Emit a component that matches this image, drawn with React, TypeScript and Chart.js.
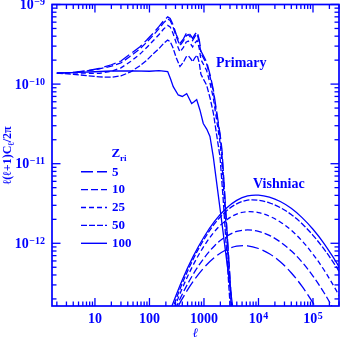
import React, { useEffect, useRef } from "react";
import { Chart, registerables } from "chart.js";

Chart.register(...registerables);

const BLUE = "#0000ff";

const xMin = 1.63;
const xMax = 3.0e5;
const yMin = 1.63e-13;
const yMax = 1e-9;

const zLabels = ["5", "10", "25", "50", "100"];
const dashPatterns: number[][] = [[12, 4], [7, 3], [5, 3], [6, 2], []];

const primaryZ5: [number, number][] = [
  [2, 1.37e-10], [4, 1.4e-10], [7, 1.47e-10], [12, 1.57e-10], [20, 1.75e-10], [30, 1.95e-10],
  [45, 2.4e-10], [67, 2.95e-10], [90, 3.6e-10], [117, 4.35e-10], [150, 5.3e-10], [180, 6.2e-10],
  [216, 7.0e-10], [240, 6.7e-10], [270, 5.6e-10], [310, 4.2e-10], [363, 3.25e-10], [420, 3.7e-10],
  [470, 4.3e-10], [516, 4.46e-10], [570, 4.1e-10], [619, 3.75e-10], [680, 4.2e-10], [750, 4.53e-10],
  [820, 3.6e-10], [880, 2.6e-10], [1000, 2.2e-10], [1120, 1.9e-10], [1300, 1.3e-10], [1490, 8.4e-11],
  [1700, 4.6e-11], [1968, 2.4e-11], [2140, 1.49e-11], [2400, 4.3e-12], [2690, 1.2e-12],
  [3020, 3.5e-13], [3390, 1.0e-13],
];
const primaryZ10: [number, number][] = [
  [2, 1.37e-10], [4, 1.4e-10], [7, 1.46e-10], [12, 1.55e-10], [20, 1.68e-10], [30, 1.85e-10],
  [45, 2.25e-10], [67, 2.77e-10], [90, 3.38e-10], [117, 4.09e-10], [150, 4.98e-10], [180, 5.83e-10],
  [216, 6.58e-10], [240, 6.3e-10], [270, 5.26e-10], [310, 3.95e-10], [363, 3.06e-10], [420, 3.48e-10],
  [470, 4.04e-10], [516, 4.19e-10], [570, 3.85e-10], [619, 3.53e-10], [680, 3.95e-10], [750, 4.26e-10],
  [820, 3.38e-10], [880, 2.44e-10], [1000, 2.07e-10], [1120, 1.79e-10], [1300, 1.22e-10], [1490, 7.9e-11],
  [1700, 4.3e-11], [1968, 2.26e-11], [2120, 1.42e-11], [2380, 4.2e-12], [2670, 1.2e-12],
  [3000, 3.4e-13], [3370, 1.0e-13],
];
const primaryZ25: [number, number][] = [
  [2, 1.37e-10], [4, 1.38e-10], [7, 1.37e-10], [12, 1.36e-10], [20, 1.45e-10], [30, 1.6e-10],
  [45, 1.92e-10], [67, 2.38e-10], [90, 2.9e-10], [117, 3.5e-10], [150, 4.2e-10], [180, 4.88e-10],
  [216, 5.46e-10], [240, 5.23e-10], [270, 4.37e-10], [310, 3.28e-10], [363, 2.54e-10], [420, 2.89e-10],
  [470, 3.35e-10], [516, 3.48e-10], [570, 3.2e-10], [619, 2.93e-10], [680, 3.28e-10], [750, 3.53e-10],
  [820, 2.81e-10], [880, 2.03e-10], [1000, 1.72e-10], [1120, 1.48e-10], [1300, 1.01e-10], [1490, 6.6e-11],
  [1700, 3.6e-11], [1968, 1.87e-11], [2080, 1.3e-11], [2340, 4.0e-12], [2630, 1.15e-12],
  [2950, 3.3e-13], [3320, 1.0e-13],
];
const primaryZ50: [number, number][] = [
  [2, 1.37e-10], [4, 1.33e-10], [7, 1.28e-10], [12, 1.23e-10], [20, 1.22e-10], [30, 1.27e-10],
  [45, 1.42e-10], [67, 1.7e-10], [90, 2.0e-10], [117, 2.4e-10], [150, 2.8e-10], [180, 3.22e-10],
  [216, 3.57e-10], [240, 3.42e-10], [270, 2.86e-10], [310, 2.14e-10], [363, 1.66e-10], [420, 1.89e-10],
  [470, 2.19e-10], [516, 2.27e-10], [570, 2.09e-10], [619, 1.91e-10], [680, 2.14e-10], [750, 2.31e-10],
  [820, 1.84e-10], [880, 1.33e-10], [1000, 1.12e-10], [1120, 9.7e-11], [1300, 6.6e-11], [1490, 4.3e-11],
  [1700, 2.35e-11], [1968, 1.22e-11], [2250, 3.6e-12], [2530, 1.05e-12], [2840, 3.1e-13], [3200, 9e-14],
];
const primaryZ100: [number, number][] = [
  [2, 1.37e-10], [5, 1.4e-10], [10, 1.43e-10], [20, 1.46e-10], [50, 1.47e-10], [100, 1.45e-10],
  [150, 1.48e-10], [216, 1.44e-10], [245, 1.15e-10], [273, 9.3e-11], [337, 7.3e-11], [400, 7.0e-11],
  [482, 7.6e-11], [540, 6.5e-11], [594, 5.7e-11], [660, 6.0e-11], [735, 6.4e-11], [845, 4.7e-11],
  [971, 3.2e-11], [1130, 2.7e-11], [1288, 2.2e-11], [1483, 1.22e-11], [1778, 4.7e-12], [2138, 1.78e-12],
  [2570, 6.6e-13], [3090, 2.5e-13], [3548, 1.2e-13],
];

const vishniacEll = [251, 398, 631, 1000, 1585, 2512, 3981, 6310, 10000, 15849, 25119, 39811, 63096, 100000, 158489, 251189, 316228];
const vishniacZ100 = [1.55e-13, 3.44e-13, 6.8e-13, 1.2e-12, 1.91e-12, 2.72e-12, 3.46e-12, 3.94e-12, 4.03e-12, 3.8e-12, 3.35e-12, 2.75e-12, 2.1e-12, 1.5e-12, 1.0e-12, 6.2e-13, 4.8e-13];
const vishniacZ50 = [1.37e-13, 3.11e-13, 6.27e-13, 1.12e-12, 1.78e-12, 2.51e-12, 3.13e-12, 3.48e-12, 3.47e-12, 3.22e-12, 2.81e-12, 2.3e-12, 1.76e-12, 1.26e-12, 8.5e-13, 5.4e-13, 4.2e-13];
const vishniacZ25 = [1.22e-13, 2.7e-13, 5.3e-13, 9.2e-13, 1.42e-12, 1.93e-12, 2.33e-12, 2.5e-12, 2.43e-12, 2.19e-12, 1.85e-12, 1.46e-12, 1.07e-12, 7.3e-13, 4.65e-13, 2.76e-13, 2.07e-13];
const vishniacZ10 = [1.14e-13, 2.27e-13, 4.06e-13, 6.5e-13, 9.4e-13, 1.21e-12, 1.41e-12, 1.47e-12, 1.41e-12, 1.26e-12, 1.04e-12, 8.05e-13, 5.8e-13, 3.87e-13, 2.41e-13, 1.39e-13, 1.03e-13];
const vishniacZ5 = [1.09e-13, 2.0e-13, 3.3e-13, 4.94e-13, 6.7e-13, 8.24e-13, 9.2e-13, 9.3e-13, 8.6e-13, 7.4e-13, 5.86e-13, 4.27e-13, 2.87e-13, 1.78e-13, 1.02e-13, 5.5e-14, 4.3e-14];

const xTickValues = [10, 100, 1000, 1e4, 1e5];
const xTickBases = ["10", "100", "1000", "10", "10"];
const xTickExps = ["", "", "", "4", "5"];
const yTickValues = [1e-9, 1e-10, 1e-11, 1e-12];
const yTickExps = ["\u22129", "\u221210", "\u221211", "\u221212"];

const SERIF = "'Liberation Serif', 'DejaVu Serif', serif";

function drawSup(
  ctx: CanvasRenderingContext2D,
  base: string,
  exp: string,
  x: number,
  y: number,
  align: "left" | "center" | "right",
  baseFont: string,
  supFont: string,
  raise: number
) {
  ctx.font = baseFont;
  const wb = ctx.measureText(base).width;
  ctx.font = supFont;
  const we = exp ? ctx.measureText(exp).width + 0.5 : 0;
  const total = wb + we;
  const x0 = align === "left" ? x : align === "center" ? x - total / 2 : x - total;
  ctx.textAlign = "left";
  ctx.textBaseline = "alphabetic";
  ctx.font = baseFont;
  ctx.fillText(base, x0, y);
  if (exp) {
    ctx.font = supFont;
    ctx.fillText(exp, x0 + wb + 0.5, y - raise);
  }
}

const framePlugin = {
  id: "frameAxes",
  afterDraw(chart: any) {
    const ctx: CanvasRenderingContext2D = chart.ctx;
    const { left, right, top, bottom } = chart.chartArea;
    const xs = chart.scales.x;
    const ys = chart.scales.y;
    ctx.save();
    ctx.strokeStyle = BLUE;
    ctx.fillStyle = BLUE;
    ctx.setLineDash([]);
    ctx.lineWidth = 1.7;
    ctx.strokeRect(left, top, right - left, bottom - top);
    ctx.lineWidth = 1.3;
    const seg = (x1: number, y1: number, x2: number, y2: number) => {
      ctx.beginPath();
      ctx.moveTo(x1, y1);
      ctx.lineTo(x2, y2);
      ctx.stroke();
    };
    for (let e = 0; e <= 5; e++) {
      for (let k = 1; k <= 9; k++) {
        const v = k * Math.pow(10, e);
        if (v < xMin || v > xMax) continue;
        const px = xs.getPixelForValue(v);
        const len = k === 1 ? 8 : 4.5;
        seg(px, bottom, px, bottom - len);
        seg(px, top, px, top + len);
      }
    }
    for (let e = -13; e <= -9; e++) {
      for (let k = 1; k <= 9; k++) {
        const v = k * Math.pow(10, e);
        if (v < yMin || v > yMax * 1.0001) continue;
        const py = ys.getPixelForValue(v);
        const len = k === 1 ? 8.5 : 4.5;
        seg(left, py, left + len, py);
        seg(right, py, right - len, py);
      }
    }
    const baseFont = `bold 14px ${SERIF}`;
    const supFont = `bold 10px ${SERIF}`;
    xTickValues.forEach((v, i) => {
      const px = xs.getPixelForValue(v);
      drawSup(ctx, xTickBases[i], xTickExps[i], px, 323, "center", baseFont, supFont, 4.5);
    });
    yTickValues.forEach((v, i) => {
      const py = ys.getPixelForValue(v);
      drawSup(ctx, "10", yTickExps[i], 45, py + 4.8, "right", baseFont, supFont, 4);
    });

    // x-axis title
    ctx.font = `italic bold 13px ${SERIF}`;
    ctx.textAlign = "center";
    ctx.fillText("\u2113", (left + right) / 2, 337);

    // y-axis title (rotated)
    ctx.save();
    ctx.translate(11, (top + bottom) / 2);
    ctx.rotate(-Math.PI / 2);
    const tFont = `bold 12px ${SERIF}`;
    const sFont = `bold 9px ${SERIF}`;
    const parts: [string, string, number][] = [
      ["\u2113(\u2113+1)C", tFont, 0],
      ["\u2113", sFont, -3],
      ["/2\u03c0", tFont, 0],
    ];
    let tw = 0;
    parts.forEach(([t, f]) => {
      ctx.font = f;
      tw += ctx.measureText(t).width;
    });
    let cx = -tw / 2;
    ctx.textAlign = "left";
    parts.forEach(([t, f, dy]) => {
      ctx.font = f;
      ctx.fillText(t, cx, -dy);
      cx += ctx.measureText(t).width;
    });
    ctx.restore();

    // annotations
    ctx.font = `bold 14px ${SERIF}`;
    ctx.textAlign = "left";
    ctx.fillText("Primary", 216, 66.5);
    ctx.fillText("Vishniac", 253, 187.5);

    // legend
    ctx.font = `bold 13px ${SERIF}`;
    ctx.fillText("Z", 111.5, 157);
    ctx.font = `bold 9px ${SERIF}`;
    ctx.fillText("ri", 120, 161);
    zLabels.forEach((lab, i) => {
      const ly = 171.7 + i * 17.9;
      ctx.setLineDash(dashPatterns[i]);
      ctx.lineWidth = 1.4;
      seg(81, ly, 107, ly);
      ctx.setLineDash([]);
      ctx.font = `bold 13px ${SERIF}`;
      ctx.textBaseline = "middle";
      ctx.fillText(lab, 112, ly + 0.5);
      ctx.textBaseline = "alphabetic";
    });
    ctx.restore();
  },
};

const primarySets = [primaryZ5, primaryZ10, primaryZ25, primaryZ50, primaryZ100];
const vishniacSets = [vishniacZ5, vishniacZ10, vishniacZ25, vishniacZ50, vishniacZ100];

export default function App() {
  const ref = useRef<HTMLCanvasElement | null>(null);
  useEffect(() => {
    if (!ref.current) return;
    const datasets: any[] = [];
    primarySets.forEach((s, i) => {
      datasets.push({
        label: `Primary z=${zLabels[i]}`,
        data: s.map(([x, y]) => ({ x, y })),
        borderColor: BLUE,
        borderWidth: 1.3,
        borderDash: dashPatterns[i],
        pointRadius: 0,
        fill: false,
        tension: 0,
      });
    });
    vishniacSets.forEach((s, i) => {
      datasets.push({
        label: `Vishniac z=${zLabels[i]}`,
        data: vishniacEll.map((x, j) => ({ x, y: s[j] })),
        borderColor: BLUE,
        borderWidth: 1.3,
        borderDash: dashPatterns[i],
        pointRadius: 0,
        fill: false,
        tension: 0.35,
      });
    });
    const chart = new Chart(ref.current, {
      type: "line",
      data: { datasets },
      options: {
        responsive: false,
        maintainAspectRatio: false,
        animation: false,
        layout: { padding: { left: 52, right: 1, top: 4.5, bottom: 32 } },
        scales: {
          x: { type: "logarithmic", min: xMin, max: xMax, display: false },
          y: { type: "logarithmic", min: yMin, max: yMax, display: false },
        },
        plugins: { legend: { display: false }, tooltip: { enabled: false } },
      },
      plugins: [framePlugin],
    } as any);
    return () => chart.destroy();
  }, []);
  return (
    <div style={{ position: "absolute", left: 0, top: 0, width: 340, height: 338, background: "#fff" }}>
      <canvas ref={ref} width={340} height={338} style={{ width: 340, height: 338 }} />
    </div>
  );
}
